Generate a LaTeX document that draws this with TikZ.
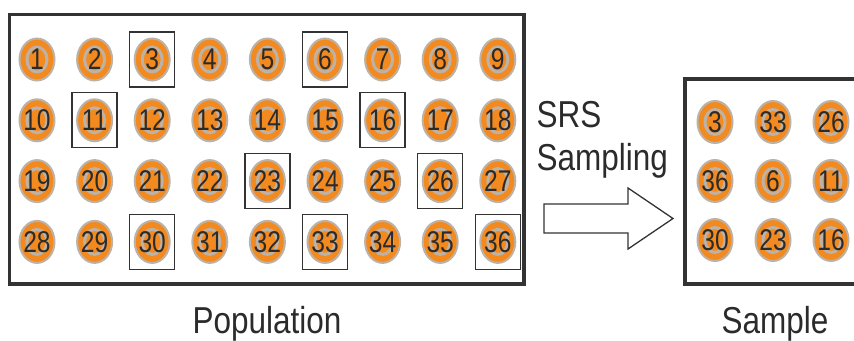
\documentclass[tikz,border=0pt]{standalone}
\usepackage{fontspec}
\usepackage{tikz}
\usetikzlibrary{shapes.geometric}
\newfontfamily\lblfont{Liberation Sans}[FakeStretch=0.84]
\newfontfamily\numfont{Liberation Sans}[FakeStretch=0.82]
\definecolor{ballcol}{HTML}{F28A1F}
\definecolor{ringcol}{HTML}{BCB2A7}
\definecolor{inkcol}{HTML}{2B2B2B}
\definecolor{framecol}{HTML}{333333}

\begin{document}
\begin{tikzpicture}[x=1pt,y=-1pt,
    ball/.style={ellipse,fill=ballcol,draw=ringcol,line width=2pt,
      minimum width=35pt,minimum height=42pt,inner sep=-6pt,
      text=inkcol,font=\numfont\fontsize{30}{30}\selectfont,
      path picture={\draw[ringcol,line width=3pt] (path picture bounding box.center)
        ellipse [x radius=10pt,y radius=12.5pt];}},
    pickbox/.style={draw=framecol,line width=1.3pt,minimum width=45pt,minimum height=55pt,inner sep=0pt},
    frame/.style={draw=framecol,line width=3.5pt},
    caption/.style={text=inkcol,inner sep=0pt,font=\lblfont\fontsize{37.5}{40}\selectfont}]
  \useasboundingbox (0,0) rectangle (854,340);
  % population
  \draw[frame] (9.5,14.5) rectangle (524,284);
  \foreach \r in {0,...,3} \foreach \c in {0,...,8} {
    \pgfmathtruncatemacro\n{9*\r+\c+1}
    \node[ball] (b\n) at ({37+57.6*\c},{59.5+60.8*\r}) {\n};
  }
  \foreach \n in {3,6,11,16,23,26,30,33,36} \node[pickbox] (p\n) at (b\n) {};
  % sample
  \draw[frame] (870,79) -- (685,79) -- (685,284) -- (870,284);
  \foreach \n [count=\i from 0] in {3,33,26,36,6,11,30,23,16} {
    \pgfmathtruncatemacro\c{mod(\i,3)}
    \pgfmathtruncatemacro\r{div(\i,3)}
    \node[ball] (s\n) at ({715+58*\c},{122+59*\r}) {\n};
  }
  % block arrow
  \draw[framecol,line width=1.3pt,line join=miter,fill=white]
    (544,204) -- (628,204) -- (628,188) -- (673,218.5) -- (628,249) -- (628,233) -- (544,233) -- cycle;
  \node[caption,anchor=base west] (srs) at (536.5,127) {SRS};
  \node[caption,anchor=base west] (samp) at (536.5,170) {Sampling};
  \node[caption,anchor=base] (pop) at (267,333) {Population};
  \node[caption,anchor=base] (smp) at (775,333) {Sample};
\end{tikzpicture}
\end{document}
